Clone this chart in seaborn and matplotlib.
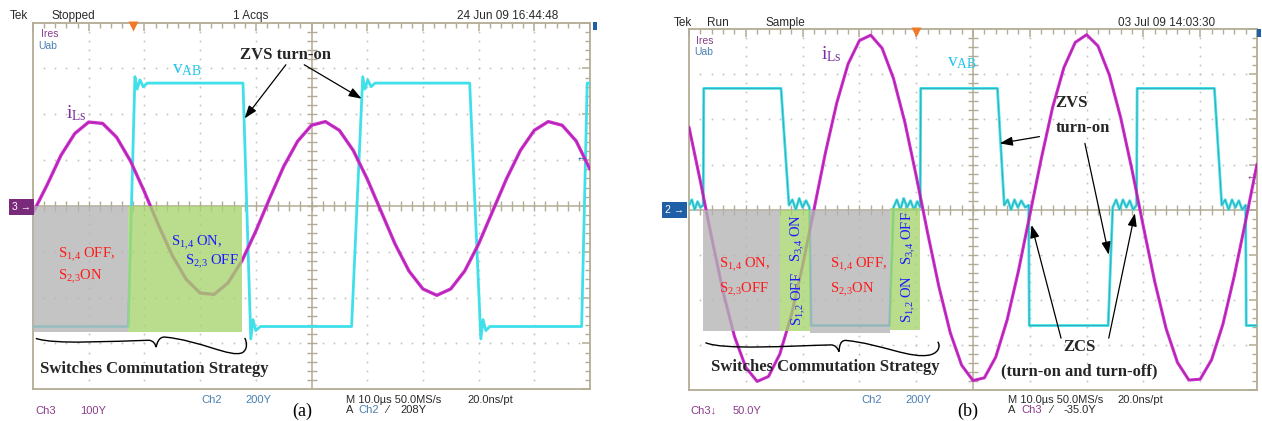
import numpy as np
import pandas as pd
import matplotlib
matplotlib.use("Agg")
import matplotlib.pyplot as plt
from matplotlib.patches import Rectangle, PathPatch
from matplotlib.path import Path
import seaborn as sns

# ------------------------------------------------------------------
# Data (units: divisions)
# ------------------------------------------------------------------
# Panel (a): resonant current i_Ls (Ch3) sampled every 0.25 div
ils_a_t = [0.0, 0.25, 0.5, 0.75, 1.0, 1.25, 1.5, 1.75, 2.0, 2.25, 2.5, 2.75,
           3.0, 3.25, 3.5, 3.75, 4.0, 4.25, 4.5, 4.75, 5.0, 5.25, 5.5, 5.75,
           6.0, 6.25, 6.5, 6.75, 7.0, 7.25, 7.5, 7.75, 8.0, 8.25, 8.5, 8.75,
           9.0, 9.25, 9.5, 9.75, 10.0]
ils_a_v = [-0.15, 0.45, 1.10, 1.58, 1.83, 1.80, 1.50, 0.98, 0.31, -0.41, -1.08, -1.60,
           -1.90, -1.93, -1.68, -1.20, -0.55, 0.17, 0.86, 1.41, 1.76, 1.84, 1.65, 1.21,
           0.59, -0.12, -0.83, -1.42, -1.81, -1.95, -1.81, -1.42, -0.83, -0.12, 0.59, 1.21,
           1.65, 1.84, 1.76, 1.42, 0.80]

# Panel (a): bridge voltage v_AB (Ch2)
vab_a_t = [0.0, 1.71, 1.83, 1.87, 1.92, 1.98, 2.05, 3.77, 3.91, 3.95, 4.0, 4.08,
           5.72, 5.92, 5.96, 6.01, 6.07, 6.14, 7.84, 8.04, 8.08, 8.13, 8.2,
           9.85, 9.95, 10.0]
vab_a_v = [-2.63, -2.63, 2.82, 2.55, 2.75, 2.60, 2.68, 2.68, -2.90, -2.48, -2.72, -2.63,
           -2.63, 2.82, 2.55, 2.75, 2.60, 2.68, 2.68, -2.90, -2.48, -2.72, -2.63,
           -2.63, 2.68, 2.68]

# Panel (b): resonant current i_Ls sampled every 0.2 div
ils_b_t = [0.0, 0.2, 0.4, 0.6, 0.8, 1.0, 1.2, 1.4, 1.6, 1.8, 2.0, 2.2, 2.4, 2.6,
           2.8, 3.0, 3.2, 3.4, 3.6, 3.8, 4.0, 4.2, 4.4, 4.6, 4.8, 5.0, 5.2, 5.4,
           5.6, 5.8, 6.0, 6.2, 6.4, 6.6, 6.8, 7.0, 7.2, 7.4, 7.6, 7.8, 8.0, 8.2,
           8.4, 8.6, 8.8, 9.0, 9.2, 9.4, 9.6, 9.8, 10.0]
ils_b_v = [1.83, 0.63, -0.63, -1.82, -2.81, -3.50, -3.81, -3.70, -3.20, -2.35, -1.24,
           0.00, 1.25, 2.36, 3.23, 3.75, 3.87, 3.58, 2.91, 1.94, 0.75, -0.51, -1.71,
           -2.73, -3.45, -3.79, -3.73, -3.27, -2.45, -1.36, -0.12, 1.12, 2.26, 3.15,
           3.71, 3.88, 3.63, 2.99, 2.04, 0.88, -0.38, -1.60, -2.64, -3.39, -3.78,
           -3.76, -3.33, -2.54, -1.47, -0.25, 1.01]

# Panel (b): three-level bridge voltage v_AB
vab_b_t = [0.0, 0.05, 0.1, 0.15, 0.2, 0.25, 0.26,
           1.62, 1.76, 1.82, 1.88, 1.94, 2.0, 2.06, 2.12, 2.15,
           3.53, 3.60, 3.66, 3.72, 3.78, 3.84, 3.90, 3.96, 4.02, 4.07, 4.08,
           5.43, 5.55, 5.61, 5.67, 5.73, 5.79, 5.85, 5.92, 5.98, 5.99,
           7.38, 7.46, 7.52, 7.58, 7.64, 7.70, 7.76, 7.82, 7.88, 7.89,
           9.25, 9.38, 9.44, 9.50, 9.56, 9.62, 9.68, 9.74, 9.80, 9.81, 10.0]
vab_b_v = [0.10, 0.22, 0.0, 0.18, 0.05, 0.10, 2.69,
           2.69, 0.10, 0.22, 0.0, 0.25, 0.05, 0.20, 0.05, -2.57,
           -2.57, 0.05, 0.22, 0.0, 0.25, 0.05, 0.20, 0.0, 0.18, 0.05, 2.69,
           2.69, 0.10, 0.22, 0.0, 0.22, 0.05, 0.20, 0.05, 0.10, -2.57,
           -2.57, 0.05, 0.22, 0.0, 0.22, 0.05, 0.20, 0.0, 0.10, 2.69,
           2.69, 0.10, 0.22, 0.0, 0.22, 0.05, 0.20, 0.0, 0.10, -2.57, -2.57]

# Shaded commutation-state boxes: (x0, x1, y_top, y_bottom, kind)
boxes_a = [(0.0, 1.71, 0.0, -2.75, "off"), (1.71, 3.75, 0.0, -2.75, "on")]
boxes_b = [(0.24, 1.61, 0.0, -2.70, "off"), (1.61, 2.13, 0.0, -2.70, "on"),
           (2.13, 3.54, 0.0, -2.73, "off"), (3.54, 4.07, 0.03, -2.68, "on")]

# ------------------------------------------------------------------
sns.set_style("white")
plt.rcParams['font.family'] = ['Liberation Sans', 'DejaVu Sans']
plt.rcParams['mathtext.fontset'] = 'custom'
plt.rcParams['mathtext.rm'] = 'Liberation Serif'
plt.rcParams['mathtext.it'] = 'Liberation Serif:italic'
plt.rcParams['mathtext.bf'] = 'Liberation Serif:bold'

W, H = 1262, 421
fig = plt.figure(figsize=(W / 100, H / 100), dpi=100)
fig.patch.set_facecolor('white')

FRAME = '#b3ac95'
GRID = '#c6c6c6'
MAG = '#d22ed2'
CYAN = '#3fe0ea'
GRAYBOX = '#b4b4b4'
GREENBOX = '#a6d46c'
RED = '#ff1a1a'
BLUE = '#1a1aff'
SERIF = ['Liberation Serif', 'DejaVu Serif']


def px_ax(l, r, t, b):
    return [l / W, 1 - b / H, (r - l) / W, (b - t) / H]


ax_a = fig.add_axes(px_ax(33, 590, 22.6, 389.3))
ax_b = fig.add_axes(px_ax(689, 1257, 29.3, 390))


def scope(ax):
    ax.set_xlim(0, 10)
    ax.set_ylim(-4, 4)
    ax.set_facecolor('white')
    for s in ax.spines.values():
        s.set_color(FRAME)
        s.set_linewidth(1.3)
    ax.set_xticks(np.arange(0, 10.01, 1))
    ax.set_yticks(np.arange(-4, 4.01, 1))
    ax.set_xticks(np.arange(0, 10.01, 0.2), minor=True)
    ax.set_yticks(np.arange(-4, 4.01, 0.2), minor=True)
    ax.tick_params(which='both', direction='in', top=True, right=True,
                   labelbottom=False, labelleft=False, color=FRAME)
    ax.tick_params(which='major', length=6, width=1.1)
    ax.tick_params(which='minor', length=3.5, width=1.0)
    ys = np.arange(-3.8, 3.81, 0.2)
    xs = np.arange(0.2, 9.81, 0.2)
    for xv in [1, 2, 3, 4, 6, 7, 8, 9]:
        ax.plot([xv] * len(ys), ys, ls='none', marker='o', ms=1.4, mec='none',
                color=GRID, zorder=1)
    for yv in [-3, -2, -1, 1, 2, 3]:
        ax.plot(xs, [yv] * len(xs), ls='none', marker='o', ms=1.4, mec='none',
                color=GRID, zorder=1)
    ax.axhline(0, color=FRAME, lw=1.1, zorder=1.5)
    ax.axvline(5, color=FRAME, lw=1.1, zorder=1.5)
    ax.plot(xs, [0] * len(xs), ls='none', marker='|', ms=7, mew=1.0, color=FRAME, zorder=1.5)
    ax.plot([5] * len(ys), ys, ls='none', marker='_', ms=7, mew=1.0, color=FRAME, zorder=1.5)


scope(ax_a)
scope(ax_b)


def trace(ax, t, v, color, lw, core=None):
    df = pd.DataFrame({'t': t, 'v': v})
    sns.lineplot(data=df, x='t', y='v', ax=ax, color=color, lw=lw, sort=False,
                 estimator=None, zorder=3, legend=False)
    if core is not None:
        sns.lineplot(data=df, x='t', y='v', ax=ax, color=core, lw=0.6, alpha=0.45,
                     sort=False, estimator=None, zorder=3.1, legend=False)
    ax.set_xlabel('')
    ax.set_ylabel('')


trace(ax_a, vab_a_t, vab_a_v, CYAN, 2.0)
trace(ax_a, ils_a_t, ils_a_v, MAG, 2.4, core='#5a1f5a')
trace(ax_b, vab_b_t, vab_b_v, CYAN, 2.0, core='#2e5c66')
trace(ax_b, ils_b_t, ils_b_v, MAG, 2.2, core='#5a1f5a')

for ax, boxes in [(ax_a, boxes_a), (ax_b, boxes_b)]:
    for x0, x1, yt, yb, kind in boxes:
        ax.add_patch(Rectangle((x0, yb), x1 - x0, yt - yb,
                               fc=GRAYBOX if kind == "off" else GREENBOX,
                               ec='none', alpha=0.78, zorder=4))


def brace(ax, verts):
    codes = [Path.MOVETO] + [Path.CURVE4] * (len(verts) - 1)
    ax.add_patch(PathPatch(Path(verts, codes), fill=False, ec='black', lw=1.0,
                           zorder=5, clip_on=False))


brace(ax_a, [(0.05, -2.89),
             (0.4, -3.03), (1.4, -2.95), (2.08, -2.93),
             (2.16, -2.94), (2.19, -3.0), (2.21, -3.08),
             (2.23, -2.98), (2.26, -2.86), (2.36, -2.86),
             (3.0, -2.93), (3.55, -3.32), (3.76, -3.2),
             (3.86, -3.12), (3.84, -2.96), (3.8, -2.88)])
brace(ax_b, [(0.29, -2.95),
             (0.6, -3.12), (1.8, -3.02), (2.5, -3.0),
             (2.58, -3.0), (2.62, -3.08), (2.64, -3.15),
             (2.65, -3.0), (2.67, -2.9), (2.76, -2.9),
             (3.4, -2.98), (3.9, -3.32), (4.25, -3.22),
             (4.42, -3.16), (4.42, -3.0), (4.38, -2.93)])

ARW = dict(arrowstyle='-|>,head_length=0.7,head_width=0.25', color='black', lw=0.9,
           shrinkA=0, shrinkB=0, mutation_scale=11)


def arrow(ax, start, tip):
    ax.annotate('', xy=tip, xytext=start, arrowprops=ARW, zorder=6)


def t(ax, x, y, s, **kw):
    kw.setdefault('family', SERIF)
    kw.setdefault('zorder', 6)
    ax.text(x, y, s, **kw)


S14 = r'S$_{\mathrm{1,\!4}}$'
S23 = r'S$_{\mathrm{2,\!3}}$'
S34 = r'S$_{\mathrm{3,\!4}}$'
S12 = r'S$_{\mathrm{1,\!2}}$'

# ---- panel (a) annotations ----
t(ax_a, 0.45, -1.07, S14 + ' OFF,', color=RED, fontsize=10.5, va='center')
t(ax_a, 0.45, -1.55, S23 + 'ON', color=RED, fontsize=10.5, va='center')
t(ax_a, 2.48, -0.81, S14 + ' ON,', color=BLUE, fontsize=10.5, va='center')
t(ax_a, 2.73, -1.22, S23 + ' OFF', color=BLUE, fontsize=10.5, va='center')
t(ax_a, 0.13, -3.55, 'Switches Commutation Strategy', fontsize=12, fontweight='bold',
  va='center', clip_on=False)
t(ax_a, 4.53, 3.30, 'ZVS turn-on', fontsize=12, fontweight='bold', ha='center', va='center')
arrow(ax_a, (4.54, 3.08), (3.80, 1.91))
arrow(ax_a, (4.87, 3.08), (5.90, 2.34))
t(ax_a, 2.5, 2.97, r'v$_{\mathrm{AB}}$', color='#25c6ee', fontsize=14, va='center')
t(ax_a, 0.59, 2.03, r'i$_{\mathrm{Ls}}$', color='#7a2fa0', fontsize=14, va='center')

# ---- panel (b) annotations ----
t(ax_b, 0.53, -1.23, S14 + ' ON,', color=RED, fontsize=10.5, va='center')
t(ax_b, 0.53, -1.77, S23 + 'OFF', color=RED, fontsize=10.5, va='center')
t(ax_b, 2.48, -1.23, S14 + ' OFF,', color=RED, fontsize=10.5, va='center')
t(ax_b, 2.48, -1.77, S23 + 'ON', color=RED, fontsize=10.5, va='center')
t(ax_b, 1.92, -0.63, S34 + ' ON', color=BLUE, fontsize=10.5, rotation=90,
  ha='center', va='center')
t(ax_b, 1.94, -1.98, S12 + ' OFF', color=BLUE, fontsize=10.5, rotation=90,
  ha='center', va='center')
t(ax_b, 3.87, -0.63, S34 + ' OFF', color=BLUE, fontsize=10.5, rotation=90,
  ha='center', va='center')
t(ax_b, 3.87, -1.98, S12 + ' ON', color=BLUE, fontsize=10.5, rotation=90,
  ha='center', va='center')
t(ax_b, 0.38, -3.48, 'Switches Commutation Strategy', fontsize=12, fontweight='bold',
  va='center')
t(ax_b, 6.74, 2.36, 'ZVS', fontsize=12, fontweight='bold', ha='center', va='center')
t(ax_b, 6.94, 1.80, 'turn-on', fontsize=12, fontweight='bold', ha='center', va='center')
arrow(ax_b, (6.17, 1.62), (5.47, 1.47))
arrow(ax_b, (6.97, 1.47), (7.39, -1.0))
t(ax_b, 6.88, -3.04, 'ZCS', fontsize=12, fontweight='bold', ha='center', va='center')
t(ax_b, 6.87, -3.59, '(turn-on and turn-off)', fontsize=12, fontweight='bold',
  ha='center', va='center')
arrow(ax_b, (6.55, -2.85), (6.03, -0.34))
arrow(ax_b, (7.39, -2.85), (7.85, -0.08))
t(ax_b, 2.33, 3.44, r'i$_{\mathrm{Ls}}$', color='#7a2fa0', fontsize=14, va='center')
t(ax_b, 4.55, 3.26, r'v$_{\mathrm{AB}}$', color='#25c6ee', fontsize=14, va='center')

# trigger markers
ax_a.plot([1.8], [3.93], marker='v', ms=7, color='#f07a2a', mec='none', clip_on=False, zorder=6)
ax_b.plot([4.0], [3.93], marker='v', ms=7, color='#f07a2a', mec='none', clip_on=False, zorder=6)


# ---- scope status texts (figure pixels) ----
def ftext(x, y, s, **kw):
    kw.setdefault('fontsize', 8)
    kw.setdefault('va', 'center')
    kw.setdefault('color', '#2a2a2a')
    fig.text(x / W, 1 - y / H, s, **kw)


PUR = '#8a3c8a'
SBLUE = '#4a7fb2'
ftext(10, 15.7, 'Tek', fontsize=8.5)
ftext(52, 15.7, 'Stopped', fontsize=8.5)
ftext(233, 15.7, '1 Acqs', fontsize=8.5)
ftext(457, 15.7, '24 Jun 09 16:44:48', fontsize=8.5)
ftext(674, 22.7, 'Tek', fontsize=8.5)
ftext(707, 22.7, 'Run', fontsize=8.5)
ftext(765, 22.7, 'Sample', fontsize=8.5)
ftext(1118, 22.7, '03 Jul 09 14:03:30', fontsize=8.5)

ftext(41, 34.3, 'Ires', fontsize=7.5, color=PUR)
ftext(38, 45.7, 'Uab', fontsize=7.5, color=SBLUE)
ftext(696, 41, 'Ires', fontsize=7.5, color=PUR)
ftext(694, 51.7, 'Uab', fontsize=7.5, color=SBLUE)

ftext(35, 410.7, 'Ch3', color=PUR)
ftext(80, 410.7, '100Y', color=PUR)
ftext(201, 400, 'Ch2', color=SBLUE)
ftext(245, 400, '200Y', color=SBLUE)
ftext(346, 400, 'M 10.0µs 50.0MS/s')
ftext(467, 400, '20.0ns/pt')
ftext(346, 410, 'A')
ftext(358, 410, 'Ch2', color=SBLUE)
ftext(386, 410, '⁄')
ftext(400, 410, '208Y')
ftext(302, 411.5, '(a)', fontsize=13, family=SERIF, color='black', ha='center')

ftext(690, 410.7, 'Ch3↓', color=PUR)
ftext(733, 410.7, '50.0Y', color=PUR)
ftext(861, 400, 'Ch2', color=SBLUE)
ftext(905, 400, '200Y', color=SBLUE)
ftext(1008, 400, 'M 10.0µs 50.0MS/s')
ftext(1117, 400, '20.0ns/pt')
ftext(1008, 410, 'A')
ftext(1021, 410, 'Ch3', color=PUR)
ftext(1050, 410, '⁄')
ftext(1063, 410, '-35.0Y')
ftext(968, 411.5, '(b)', fontsize=13, family=SERIF, color='black', ha='center')

# channel ground markers
ftext(12, 207, '3 →', fontsize=7.5, color='white',
      bbox=dict(boxstyle='square,pad=0.3', fc='#7a2a7a', ec='none'))
ftext(665, 210, '2 →', fontsize=7.5, color='white',
      bbox=dict(boxstyle='square,pad=0.3', fc='#1f5fa8', ec='none'))
ftext(575, 159, '←', fontsize=9, color='#2060b0', fontweight='bold')
ftext(1246, 178, '←', fontsize=9, color=PUR, fontweight='bold')
fig.patches.append(Rectangle((593 / W, 1 - 30 / H), 4 / W, 8 / H, fc='#1f5fa8', ec='none',
                             transform=fig.transFigure, figure=fig))
fig.patches.append(Rectangle((1257 / W, 1 - 37 / H), 4 / W, 8 / H, fc='#1f5fa8', ec='none',
                             transform=fig.transFigure, figure=fig))

fig.savefig('out.png', dpi=100)
